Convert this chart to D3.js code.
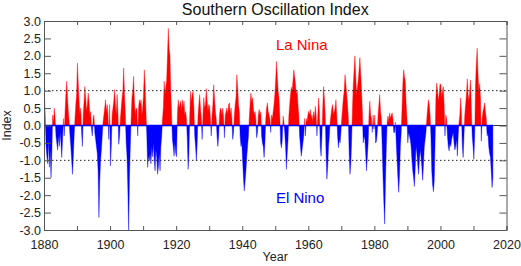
<!DOCTYPE html>
<html><head><meta charset="utf-8">
<script src="https://cdn.jsdelivr.net/npm/d3@7"></script>
<style>
html,body{margin:0;padding:0;background:#fff;}
svg{display:block;font-family:"Liberation Sans",Arial,Helvetica,sans-serif;}
</style></head>
<body><svg id="c" width="521" height="266"></svg>
<script>
// Quarterly Southern Oscillation Index values, starting 1880 (4 per year)
const startYear = 1880;
const soi = [
 0.95,0.3,-0.6,-0.9, -1.1,-0.4,-1.2,-0.7, -1.5,-0.8,0.3,0.1, 0.5,0.2,-0.3,-0.5, -0.7,-0.3,-0.6,-0.2,
 -0.5,-0.92,-0.4,0.2, -0.3,0.4,0.9,1.27, 0.8,0.4,0.1,-0.3, -0.6,-1.0,-1.4,-0.9, -0.3,0.2,0.6,0.9,
 1.79,1.2,0.7,0.3, 0.5,-0.2,-0.6,0.3, 0.7,1.12,0.8,0.4, 0.6,0.93,0.7,0.3, 0.4,-0.1,-0.3,0.2,
 0.3,-0.2,-0.4,-0.6, -0.8,-1.3,-2.64,-1.6, -1.0,-0.7,-0.3,0.1, 0.3,0.5,0.74,0.4, 0.6,0.3,-0.4,0.6,
 -1.16,-0.6,0.3,0.5, 0.7,1.03,0.6,0.3, 0.89,0.4,-0.54,-0.3, 0.2,0.5,0.8,1.0, 1.65,0.9,0.3,-0.5,
 -0.9,-1.8,-3.02,-1.5, -0.6,0.2,0.8,1.0, 1.41,0.7,0.3,0.5, 0.46,-0.3,0.5,0.74, 0.6,0.74,0.3,0.5,
 0.9,1.6,1.1,0.4, -0.3,-1.2,-0.9,-1.0, -0.8,-1.1,-0.6,-0.9, -0.5,-1.0,-1.3,-0.7, -0.9,-1.4,-1.2,-0.8,
 -1.3,-0.6,-0.3,0.2, 0.5,1.27,0.9,1.1, 1.3,2.0,2.79,2.2, 2.03,1.0,0.3,-0.4, -0.6,-0.88,-0.5,-0.8,
 -0.9,0.3,0.74,0.5, 0.6,0.7,0.4,0.74, 0.5,0.7,0.3,0.4, 0.2,-0.4,-1.26,-0.8, 0.3,0.98,0.7,0.9,
 0.98,0.5,-0.3,-0.6, -1.02,-0.5,0.3,0.6, 0.89,0.5,0.2,-0.4, 0.3,0.8,0.5,0.6, 1.06,0.7,0.4,0.6,
 0.55,0.2,-0.3,0.3, 0.6,1.17,0.8,0.4, 0.2,-0.3,-0.6,-0.3, 0.3,0.5,0.46,0.3, 0.5,0.2,-0.35,0.3,
 0.4,0.5,0.3,0.6, 0.65,0.3,0.5,0.2, -0.4,-0.2,0.3,0.6, 0.8,1.46,1.1,0.6, 0.4,-0.3,-0.6,-0.5,
 -1.0,-1.5,-1.88,-1.6, -1.3,-0.9,-0.6,-0.3, 0.2,0.6,0.93,0.7, 0.8,0.5,0.3,0.4, 0.2,-0.35,-0.2,0.3,
 0.46,0.3,0.4,-0.3, -0.5,-0.6,-0.92,-0.5, 0.2,0.5,0.65,0.4, 0.3,0.2,-0.2,0.3, 0.2,0.4,0.6,0.9,
 1.3,1.84,1.4,1.0, 0.8,0.3,-0.5,-0.64, -0.4,0.27,0.1,-0.2, -0.6,-1.26,-0.8,-0.4, 0.3,0.6,0.9,1.1,
 1.0,1.3,1.6,1.4, 1.2,0.9,1.0,0.6, 0.3,-0.3,-0.6,-0.88, -0.7,-0.5,-0.3,0.2, -0.3,0.2,0.1,0.3,
 0.41,0.3,0.46,0.2, 0.3,0.1,0.4,0.2, 0.55,0.3,-0.3,0.3, 0.79,0.4,-0.6,-0.88, -0.3,0.5,1.12,0.8,
 0.3,-0.8,-1.54,-1.2, -0.6,-0.3,0.1,0.3, 0.5,0.6,0.3,0.4, 0.5,0.74,0.3,-0.3, -0.64,-0.4,-0.5,-0.2,
 0.2,0.5,0.8,1.0, 1.46,1.2,0.9,0.6, 0.2,-0.8,-1.4,-1.1, -0.4,0.5,1.2,1.6, 2.0,1.4,0.9,1.1,
 1.3,1.6,1.95,1.5, 1.0,0.4,-0.5,-0.3, -0.4,-0.8,-1.3,-0.9, -0.5,0.3,0.7,0.3, 0.2,-0.2,0.3,-0.1,
 0.3,-0.5,-0.45,-0.2, 0.3,0.6,0.89,0.4, 0.2,-0.6,-1.5,-2.2, -2.83,-1.6,-0.6,0.1, 0.27,0.1,0.36,0.2,
 0.3,0.36,0.2,-0.2, -0.2,0.1,-0.5,-1.0, -1.5,-1.92,-1.4,-0.6, -0.2,0.5,1.2,1.6, 1.4,1.27,0.6,0.2,
 -0.5,-0.2,-0.3,-0.4, -0.6,-1.0,-1.3,-1.5, -1.75,-1.2,-0.6,-0.8, -1.1,-1.4,-1.0,-0.7, -0.9,-1.2,-1.57,-1.1,
 -0.6,-0.4,-0.2,0.2, 0.5,0.74,0.6,0.3, -0.3,-1.3,-1.7,-1.9, -1.6,-0.5,0.8,1.22, 1.0,0.7,0.9,1.2,
 1.17,0.8,1.0,1.12, 0.6,-0.3,0.3,0.2, -0.3,-0.6,-0.73,-0.5, -0.6,-0.4,-0.3,-0.2, -0.5,-0.7,-0.6,-0.4,
 -0.88,-0.3,0.1,0.3, 0.79,0.3,-0.6,-0.92, -0.3,0.3,0.6,0.9, 1.34,0.9,0.7,1.0, 1.31,0.4,-0.3,-0.6,
 -0.97,-0.3,1.2,1.8, 2.22,1.5,0.98,1.2, 0.8,-0.45,0.2,0.4, 0.5,0.65,0.4,0.2, -0.3,-0.2,-0.6,-0.8,
 -0.9,-1.3,-1.78,-1.5
];
const xTicks = [1880,1890,1900,1910,1920,1930,1940,1950,1960,1970,1980,1990,2000,2010,2020];
const xLabels = [1880,1900,1920,1940,1960,1980,2000,2020];
const yTicks = [-3,-2.5,-2,-1.5,-1,-0.5,0,0.5,1,1.5,2,2.5,3];
const refLines = [1,-1];
const title = "Southern Oscillation Index";

const data = soi.map((v,i)=>({t: startYear + (i+0.5)/4, v}));

const svg = d3.select("#c");
const L=44, R=506.5, T=21, B=230;
const x = d3.scaleLinear().domain([1880,2020]).range([L,R]);
const y = d3.scaleLinear().domain([-3,3]).range([B,T]);

const defs = svg.append("defs");
defs.append("clipPath").attr("id","pos").append("rect")
  .attr("x",L).attr("y",T).attr("width",R-L).attr("height",y(0)-T);
defs.append("clipPath").attr("id","neg").append("rect")
  .attr("x",L).attr("y",y(0)).attr("width",R-L).attr("height",B-y(0));

const area = d3.area().x(d=>x(d.t)).y0(y(0)).y1(d=>y(d.v));
svg.append("path").datum(data).attr("d",area).attr("fill","#f00")
  .attr("stroke","#f00").attr("stroke-width",0.4).attr("clip-path","url(#pos)");
svg.append("path").datum(data).attr("d",area).attr("fill","#00f")
  .attr("stroke","#00f").attr("stroke-width",0.4).attr("clip-path","url(#neg)");

// zero line
svg.append("line").attr("x1",L).attr("x2",R).attr("y1",y(0)).attr("y2",y(0))
  .attr("stroke","#333").attr("stroke-width",1);
svg.append("line").attr("x1",x(data[0].t)).attr("x2",x(data[data.length-1].t))
  .attr("y1",y(0)).attr("y2",y(0)).attr("stroke","#00f").attr("stroke-width",1.4);

// dotted reference lines
svg.selectAll(".ref").data(refLines).join("line")
  .attr("x1",L).attr("x2",R).attr("y1",d=>y(d)).attr("y2",d=>y(d))
  .attr("stroke","#222").attr("stroke-width",1).attr("stroke-dasharray","1.5,2.5");

// axes with inward ticks
const fmtX = d => xLabels.includes(d) ? String(d) : "";
const gB = svg.append("g").attr("transform",`translate(0,${B})`)
  .call(d3.axisBottom(x).tickValues(xTicks).tickSize(-4).tickPadding(10).tickFormat(fmtX));
const gT = svg.append("g").attr("transform",`translate(0,${T})`)
  .call(d3.axisTop(x).tickValues(xTicks).tickSize(-4).tickFormat(""));
const gL = svg.append("g").attr("transform",`translate(${L},0)`)
  .call(d3.axisLeft(y).tickValues(yTicks).tickSize(-7).tickPadding(3).tickFormat(d3.format(".1f")));
const gR = svg.append("g").attr("transform",`translate(${R},0)`)
  .call(d3.axisRight(y).tickValues(yTicks).tickSize(-7).tickFormat(""));
[gB,gT,gL,gR].forEach(g=>{
  g.select(".domain").attr("stroke","#555");
  g.selectAll(".tick line").attr("stroke","#555");
  g.selectAll("text").attr("fill","#222").style("font-size","12.5px")
   .style("font-family","Liberation Sans, Arial, sans-serif");
});
gL.selectAll("text").text(d=>d3.format(".1f")(d).replace("−","-"));

// titles
svg.append("text").attr("x",(L+R)/2).attr("y",15).attr("text-anchor","middle")
  .style("font-size","16px").attr("fill","#111").text(title);
svg.append("text").attr("x",(L+R)/2).attr("y",261).attr("text-anchor","middle")
  .style("font-size","12.5px").attr("fill","#222").text("Year");
svg.append("text").attr("transform",`translate(11,${(T+B)/2}) rotate(-90)`)
  .attr("text-anchor","middle").style("font-size","12.5px").attr("fill","#222").text("Index");
svg.append("text").attr("x",x(1950.2)).attr("y",50).style("font-size","15px")
  .attr("fill","#f00").text("La Nina");
svg.append("text").attr("x",x(1950.2)).attr("y",203).style("font-size","15px")
  .attr("fill","#00f").text("El Nino");
</script></body></html>
